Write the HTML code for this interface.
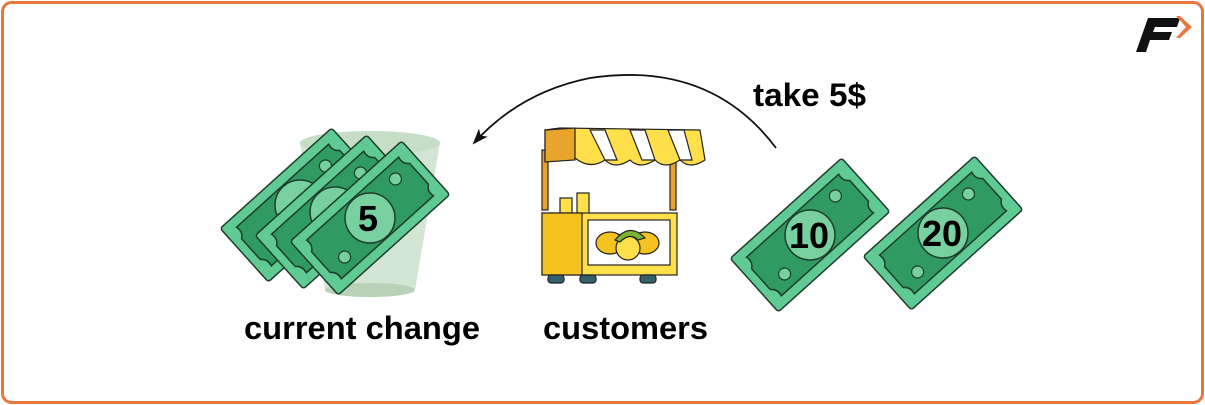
<!DOCTYPE html>
<html><head><meta charset="utf-8"><style>
html,body{margin:0;padding:0;background:#fff}
svg{display:block}
text{font-family:"Liberation Sans",sans-serif;font-weight:bold}
</style></head><body>
<svg width="1205" height="405" viewBox="0 0 1205 405" xmlns="http://www.w3.org/2000/svg">
<defs>
<g id="bill">
<rect x="-75" y="-36" width="150" height="72" rx="3" fill="#5fca94" stroke="#1f3d2c" stroke-width="1.5"/>
<path d="M-62,-26 H62 Q60,-18 66,-14 V14 Q60,18 62,26 H-62 Q-60,18 -66,14 V-14 Q-60,-18 -62,-26Z" fill="#2f9a62" stroke="#1f3d2c" stroke-width="1.5"/>
<circle cx="0" cy="0" r="25" fill="#78cf9f" stroke="#1f3d2c" stroke-width="1.5"/>
<circle cx="45" cy="-12" r="6" fill="#78cf9f" stroke="#1f3d2c" stroke-width="1.2"/>
<circle cx="-45" cy="12" r="6" fill="#78cf9f" stroke="#1f3d2c" stroke-width="1.2"/>
</g>
<marker id="ah" markerWidth="16" markerHeight="12" refX="14" refY="6" orient="auto" markerUnits="userSpaceOnUse">
<path d="M0,0 L16,6 L0,12 L4,6Z" fill="#111"/></marker>
</defs>
<rect x="2.5" y="2.5" width="1200" height="400" rx="9" fill="#fff" stroke="#e8763f" stroke-width="3"/>
<path d="M1148,18 H1180 L1177,27 H1155 L1153,32 H1172 L1169,40 H1150 L1146,52 H1136 Z" fill="#111"/>
<path d="M1180,16 L1192,27 L1180,38 L1176,38 L1186,27 L1176,16Z" fill="#e8763f"/>
<path d="M300,143 L440,143 L415,290 Q370,300 325,290 Z" fill="#d3e6d3"/>
<ellipse cx="370" cy="143" rx="70" ry="12" fill="#c6ddc6"/>
<ellipse cx="370" cy="290" rx="45" ry="7" fill="#b9d1b9"/>
<g transform="translate(300,205) rotate(-42)"><use href="#bill"/></g>
<g transform="translate(335,212) rotate(-42)"><use href="#bill"/></g>
<g transform="translate(370,218) rotate(-42)"><use href="#bill"/></g>
<text x="368" y="231" font-size="36" text-anchor="middle" fill="#000">5</text>
<g transform="translate(810,235) rotate(-42)"><use href="#bill"/></g>
<text x="809" y="248" font-size="36" text-anchor="middle" fill="#000">10</text>
<g transform="translate(943,233) rotate(-42)"><use href="#bill"/></g>
<text x="942" y="246" font-size="36" text-anchor="middle" fill="#000">20</text>
<g stroke="#222" stroke-width="1.2">
<rect x="542" y="150" width="6" height="60" fill="#e9a52b"/>
<rect x="670" y="160" width="6" height="50" fill="#e9a52b"/>
<path d="M545,130 L560,128 Q580,128 700,130 L705,160 Q690,170 680,160 Q665,170 655,160 Q640,170 630,160 Q615,170 605,160 Q590,170 575,158 L545,160Z" fill="#ffe04a"/>
<path d="M545,130 L575,128 L575,160 L545,162Z" fill="#e9a52b"/>
<path d="M590,130 L605,160 L617,160 L605,130Z M630,130 L642,160 L655,160 L645,130Z M668,130 L680,160 L692,160 L684,130Z" fill="#fff"/>
<rect x="560" y="198" width="12" height="16" fill="#ffe04a"/>
<rect x="577" y="193" width="12" height="21" fill="#ffe04a"/>
<rect x="542" y="213" width="135" height="62" fill="#ffe04a"/>
<rect x="542" y="213" width="40" height="62" fill="#f5c21f"/>
<rect x="588" y="220" width="82" height="45" fill="#fff"/>
<ellipse cx="610" cy="243" rx="14" ry="11" fill="#f5c21f"/>
<ellipse cx="645" cy="243" rx="14" ry="11" fill="#f5c21f"/>
<ellipse cx="628" cy="248" rx="12" ry="12" fill="#ffe04a"/>
<path d="M615,240 Q630,222 645,238 L638,240 Q630,232 620,242Z" fill="#7ab431"/>
<rect x="548" y="275" width="16" height="8" rx="3" fill="#34616e"/>
<rect x="580" y="275" width="16" height="8" rx="3" fill="#34616e"/>
<rect x="640" y="275" width="16" height="8" rx="3" fill="#34616e"/>
</g>
<path d="M776,148 Q710,60 590,78 Q520,92 474,143" fill="none" stroke="#111" stroke-width="1.8" marker-end="url(#ah)"/>
<text x="753" y="106" font-size="32" fill="#000" textLength="113" lengthAdjust="spacingAndGlyphs">take 5$</text>
<text x="244" y="339" font-size="32" fill="#000" textLength="236" lengthAdjust="spacingAndGlyphs">current change</text>
<text x="543" y="339" font-size="32" fill="#000" textLength="165" lengthAdjust="spacingAndGlyphs">customers</text>
</svg>
</body></html>
